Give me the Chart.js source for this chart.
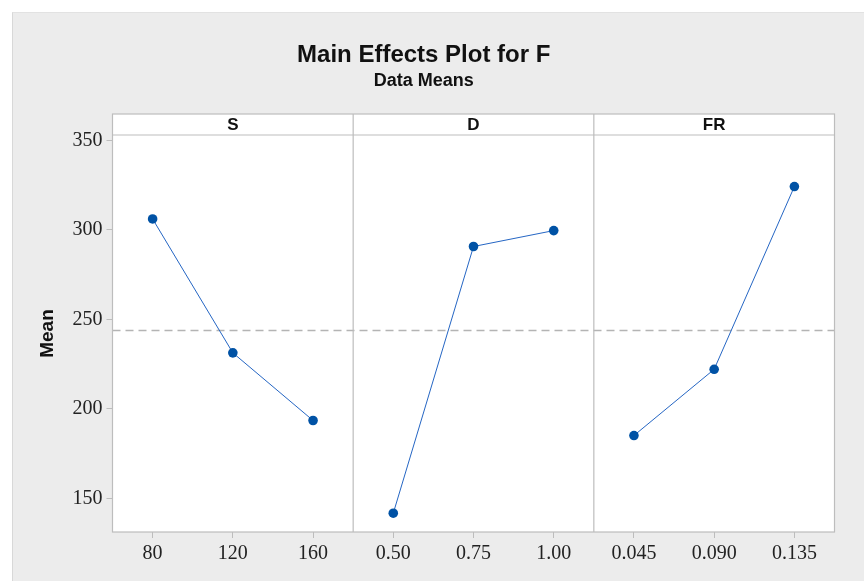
<!DOCTYPE html>
<html>
<head>
<meta charset="utf-8">
<script src="https://cdn.jsdelivr.net/npm/chart.js@4.4.1/dist/chart.umd.min.js"></script>
<style>
  body { margin: 0; background: #fff; }
  #wrap {
    position: absolute; left: 12px; top: 12px;
    width: 851px; height: 568px;
    background: #ececec;
    border-left: 1px solid #d8d8d8;
    border-top: 1px solid #e2e2e2;
  }
</style>
</head>
<body>
<div id="wrap"><canvas id="chart" width="851" height="568"></canvas></div>
<script>
// factor levels and the mean response at each level
const factors = ["S", "D", "FR"];
const sLevels = ["80", "120", "160"];
const dLevels = ["0.50", "0.75", "1.00"];
const frLevels = ["0.045", "0.090", "0.135"];
const sMeans = [306.1, 231.3, 193.5];
const dMeans = [141.7, 290.7, 299.6];
const frMeans = [185.1, 222.1, 324.2];
const grandMean = 244.0;
const yTicks = [150, 200, 250, 300, 350];

const labels = [...sLevels, ...dLevels, ...frLevels];

// put a panel's 3 values in its slot of the 9 categories
const panelData = (values, panel) =>
  labels.map((_, i) => (Math.floor(i / 3) === panel ? values[i % 3] : null));

const lineStyle = {
  borderColor: "#2566c4",
  borderWidth: 1,
  pointRadius: 4.8,
  pointBackgroundColor: "#0052a5",
  pointBorderWidth: 0,
  spanGaps: false,
};

const frameColor = "#bdbdbd";

const panelsPlugin = {
  id: "panels",
  beforeDraw(chart) {
    const { ctx, chartArea: a } = chart;
    ctx.save();
    ctx.fillStyle = "#fff";
    ctx.fillRect(a.left, a.top - 21, a.right - a.left, a.bottom - a.top + 21);
    ctx.restore();
  },
  beforeDatasetsDraw(chart) {
    const { ctx, chartArea: a, scales } = chart;
    const x = scales.x;
    const stripTop = a.top - 21;
    ctx.save();
    // mean reference line
    const ym = Math.round(scales.y.getPixelForValue(grandMean)) + 0.5;
    ctx.strokeStyle = "#b4b4b4";
    ctx.lineWidth = 1.5;
    ctx.setLineDash([8, 5]);
    ctx.beginPath();
    ctx.moveTo(a.left, ym);
    ctx.lineTo(a.right, ym);
    ctx.stroke();
    ctx.setLineDash([]);

    // frame, strip and panel dividers
    ctx.strokeStyle = frameColor;
    ctx.lineWidth = 1.2;
    ctx.strokeRect(a.left, stripTop, a.right - a.left, a.bottom - stripTop);
    ctx.beginPath();
    ctx.moveTo(a.left, a.top);
    ctx.lineTo(a.right, a.top);
    for (let p = 1; p < factors.length; p++) {
      const xd = (x.getPixelForValue(p * 3 - 1) + x.getPixelForValue(p * 3)) / 2;
      ctx.moveTo(xd, stripTop);
      ctx.lineTo(xd, a.bottom);
    }
    ctx.stroke();

    // strip labels
    ctx.fillStyle = "#111";
    ctx.font = "bold 17px 'Liberation Sans', Arial, sans-serif";
    ctx.textAlign = "center";
    ctx.textBaseline = "middle";
    factors.forEach((f, p) => {
      ctx.fillText(f, x.getPixelForValue(p * 3 + 1), stripTop + 11);
    });
    ctx.restore();
  },
};

new Chart(document.getElementById("chart"), {
  type: "line",
  data: {
    labels: labels,
    datasets: [
      { label: "S", data: panelData(sMeans, 0), ...lineStyle },
      { label: "D", data: panelData(dMeans, 1), ...lineStyle },
      { label: "FR", data: panelData(frMeans, 2), ...lineStyle },
    ],
  },
  options: {
    responsive: false,
    animation: false,
    events: [],
    layout: { padding: { left: 0, right: 29.5, top: 0, bottom: 0 } },
    plugins: {
      legend: { display: false },
      tooltip: { enabled: false },
      title: {
        display: true,
        text: "Main Effects Plot for F",
        color: "#111",
        font: { family: "'Liberation Sans', Arial, sans-serif", size: 24, weight: "bold", lineHeight: 1.2 },
        padding: { top: 27.6, bottom: 0 },
      },
      subtitle: {
        display: true,
        text: "Data Means",
        color: "#111",
        font: { family: "'Liberation Sans', Arial, sans-serif", size: 18, weight: "bold", lineHeight: 1.2 },
        padding: { top: 0.8, bottom: 43.2 },
      },
    },
    scales: {
      x: {
        type: "category",
        offset: true,
        grid: { drawOnChartArea: false, color: frameColor, tickLength: 6, offset: false },
        border: { display: false },
        ticks: {
          color: "#222",
          padding: 4,
          autoSkip: false,
          maxRotation: 0,
          font: { family: "'Liberation Serif', 'Times New Roman', serif", size: 20 },
        },
        afterFit(scale) { scale.height = 49; },
      },
      y: {
        min: 131.2,
        max: 353,
        grid: { drawOnChartArea: false, color: frameColor, tickLength: 6 },
        border: { display: false },
        afterBuildTicks(scale) { scale.ticks = yTicks.map((v) => ({ value: v })); },
        ticks: {
          color: "#222",
          padding: 4,
          font: { family: "'Liberation Serif', 'Times New Roman', serif", size: 20 },
        },
        title: {
          display: true,
          text: "Mean",
          color: "#111",
          font: { family: "'Liberation Sans', Arial, sans-serif", size: 19, weight: "bold" },
          padding: { top: 23, bottom: 0 },
        },
        afterFit(scale) { scale.width = 99.5; },
      },
    },
  },
  plugins: [panelsPlugin],
});
</script>
</body>
</html>
